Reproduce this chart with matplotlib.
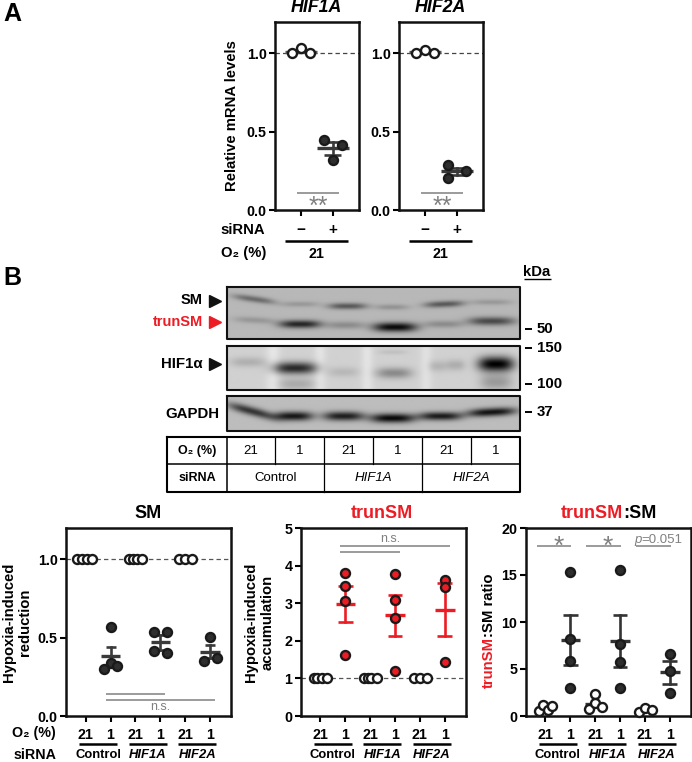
import numpy as np
import matplotlib
matplotlib.use('Agg')
import matplotlib.pyplot as plt

plt.rcParams['font.family'] = ['Liberation Sans', 'DejaVu Sans']
plt.rcParams['font.weight'] = 'bold'
plt.rcParams['font.size'] = 9

W, H = 692, 762
DARK = '#2e2e2e'
RED = '#ed1c24'
GREY = '#808080'

# --- Panel A values
hif1a_ctrl = [1.00, 1.036, 1.004]
hif1a_si = [0.45, 0.415, 0.317]
hif1a_stats = [(1.01, 1.01, 1.01), (0.396, 0.353, 0.436)]
hif2a_ctrl = [1.00, 1.02, 1.00]
hif2a_si = [0.289, 0.247, 0.206]
hif2a_stats = [(1.01, 1.01, 1.01), (0.247, 0.223, 0.268)]
a_ctrl_off = [-0.28, 0.01, 0.30]
hif1a_si_off = [-0.27, 0.30, 0.01]
hif2a_si_off = [-0.28, 0.30, -0.28]

# --- Panel B quantification: (values, jitter)
o2_labels = ['21', '1', '21', '1', '21', '1']
group_labels = ['Control', 'HIF1A', 'HIF2A']

sm_vals = [[1, 1, 1, 1], [0.57, 0.34, 0.30, 0.32], [1, 1, 1, 1],
           [0.535, 0.535, 0.415, 0.40], [1, 1, 1], [0.505, 0.35, 0.37]]
sm_off = [[-0.33, -0.16, 0.04, 0.27], [0, 0, -0.25, 0.27], [-0.24, -0.1, 0.05, 0.27],
          [-0.27, 0.27, -0.27, 0.27], [-0.25, 0, 0.27], [0, -0.25, 0.27]]
sm_mean = [None, 0.38, None, 0.47, None, 0.41]
sm_lo = [None, 0.32, None, 0.42, None, 0.37]
sm_hi = [None, 0.443, None, 0.515, None, 0.455]

trun_vals = [[1, 1, 1, 1], [3.80, 3.46, 3.05, 1.63], [1, 1, 1, 1],
             [3.78, 3.08, 2.60, 1.21], [1, 1, 1], [3.63, 3.42, 1.44]]
trun_off = [[-0.26, -0.12, 0.06, 0.28], [0, 0, 0, 0], [-0.24, -0.1, 0.05, 0.27],
            [0, 0, 0, 0], [-0.25, 0, 0.27], [0, 0, 0]]
trun_mean = [None, 2.98, None, 2.68, None, 2.83]
trun_lo = [None, 2.51, None, 2.13, None, 2.13]
trun_hi = [None, 3.47, None, 3.23, None, 3.53]

ratio_vals = [[0.57, 1.17, 0.67, 1.03], [15.3, 8.17, 5.9, 2.95], [0.78, 2.3, 1.35, 0.96],
              [15.56, 7.7, 5.72, 2.95], [0.43, 0.89, 0.6], [6.64, 4.8, 2.45]]
ratio_off = [[-0.25, -0.08, 0.09, 0.28], [0, 0, 0, 0], [-0.23, 0.01, 0.01, 0.28],
             [0, 0, 0, 0], [-0.23, 0.01, 0.27], [0, 0, 0]]
ratio_mean = [0.86, 8.1, 1.3, 8.03, 0.65, 4.65]
ratio_lo = [None, 5.44, None, 5.26, None, 3.4]
ratio_hi = [None, 10.76, None, 10.76, None, 5.9]

# --- Blot bands: left, right, row, thickness, darkness, slope (image px)
sm_bands = [(233, 275, 299, 3.2, .42, .14), (281, 319, 304, 2.8, .17, 0), (328, 367, 306, 3.2, .52, 0),
            (375, 409, 307, 2.8, .20, 0), (424, 464, 304, 3.2, .52, -.04), (471, 512, 302, 2.8, .17, 0),
            (234, 275, 320, 3.2, .18, .05), (279, 321, 324, 4.0, .80, 0), (326, 365, 325, 3.8, .24, 0),
            (373, 417, 327, 4.6, .95, 0), (424, 463, 324, 3.6, .24, 0), (468, 515, 321, 4.2, .60, 0)]
hif_bands = [(230, 266, 362, 5.0, .16, 0), (273, 317, 368, 6.0, .80, 0), (278, 315, 384, 6.0, .18, 0),
             (328, 359, 372, 5.0, .12, 0), (376, 412, 373, 5.5, .34, 0), (378, 407, 352, 2.5, .08, 0),
             (428, 447, 366, 5.5, .14, 0), (446, 465, 365, 5.5, .17, 0), (478, 514, 364, 7.5, 1.0, 0),
             (480, 512, 382, 8.0, .26, 0)]
gapdh_bands = [(228, 275, 411, 4.5, .72, .26), (274, 313, 416, 4.6, .88, 0), (323, 364, 416, 4.6, .84, 0),
               (370, 415, 418, 4.6, .95, 0), (419, 462, 416, 4.2, .86, 0), (467, 516, 412, 4.2, .90, -.05)]
hif_strips = [(273, 7, .08), (320, 6, .07), (367, 6, .07), (426, 6, .06)]


def band_image(box, bg, bands, strips=()):
    x0, x1, y0, y1 = box
    xx, yy = np.meshgrid(np.arange(x0, x1, 0.34), np.arange(y0, y1, 0.34))
    img = np.full(xx.shape, bg, dtype=float)
    for left, c, amt in strips:
        img += amt * np.exp(-((xx - left) / c) ** 2)
    for left, right, row, thick, dark, slope in bands:
        mid = (left + right) / 2
        half = (right - left) / 2
        across = np.exp(-((np.abs(xx - mid) / half) ** 3))
        along = np.exp(-((yy - (row + slope * (xx - mid))) / thick) ** 2)
        img -= dark * bg * across * along
    return np.clip(img, 0, 1)


def px_axes(x0, x1, y0, y1):
    return fig.add_axes([x0 / W, 1 - y1 / H, (x1 - x0) / W, (y1 - y0) / H])


def style(ax, xt, xlim, ylim, yt, ylab, xlab, xfs=10.3, xpad=4.0):
    ax.set_xlim(*xlim)
    ax.set_ylim(*ylim)
    ax.set_yticks(yt)
    ax.set_yticklabels(ylab, fontsize=10.3)
    ax.set_xticks(xt)
    ax.set_xticklabels(xlab, fontsize=xfs)
    ax.tick_params(axis='y', length=4.5, width=1.5, pad=1.5)
    ax.tick_params(axis='x', length=4.5, width=1.5, pad=xpad)
    for s in ax.spines.values():
        s.set_linewidth(1.8)
        s.set_color('#111111')


def group(ax, x, vals, off, mean, lo, hi, fill, col, mw, cw):
    if mean is not None:
        ax.plot([x - mw, x + mw], [mean, mean], color=col, lw=2.4, zorder=3, solid_capstyle='butt')
    if lo is not None:
        ax.plot([x, x], [lo, hi], color=col, lw=1.9, zorder=3)
        for v in (lo, hi):
            ax.plot([x - cw, x + cw], [v, v], color=col, lw=1.9, zorder=3, solid_capstyle='butt')
    xs = [x + o for o in off]
    ax.scatter(xs, vals, s=42, facecolor=fill, edgecolor='#1a1a1a', linewidth=1.7, zorder=4, clip_on=False)


fig = plt.figure(figsize=(W / 100, H / 100), dpi=100)
ov = fig.add_axes([0, 0, 1, 1], zorder=10)
ov.set_xlim(0, W)
ov.set_ylim(H, 0)
ov.axis('off')
ov.patch.set_alpha(0)


def txt(x, y, s, ha='center', va='center', **kw):
    return ov.text(x, y, s, ha=ha, va=va, **kw)


def hline(x0, x1, y, color='black', lw=1.5):
    ov.plot([x0, x1], [y, y], color=color, lw=lw, solid_capstyle='butt')


# Panel A
a_xlim = (0.2, 2.82)
for x0, title, ctrl, si, stats, si_off in [(275, 'HIF1A', hif1a_ctrl, hif1a_si, hif1a_stats, hif1a_si_off),
                                           (399, 'HIF2A', hif2a_ctrl, hif2a_si, hif2a_stats, hif2a_si_off)]:
    ax = px_axes(x0, x0 + 84, 22, 210)
    style(ax, [1, 2], a_xlim, (0, 1.2), [0, 0.5, 1.0], ['0.0', '0.5', '1.0'], ['\u2212', '+'], xfs=11, xpad=5.0)
    ax.axhline(1, color='#444444', lw=0.9, dashes=(3.5, 2.5), zorder=1)
    group(ax, 1, ctrl, a_ctrl_off, stats[0][0], None, None, 'white', '#555555', 0.5, 0.26)
    group(ax, 2, si, si_off, stats[1][0], stats[1][1], stats[1][2], DARK, '#3a3a3a', 0.5, 0.26)
    ax.plot([0.9, 2.2], [0.108, 0.108], color=GREY, lw=1.1, solid_capstyle='butt')
    ax.text(1.55, 0.022, '**', ha='center', va='center', color=GREY, fontsize=18, fontweight='normal')
    txt(x0 + 41, 8, title, fontsize=12.8, style='italic')
    hline(x0 + 10, x0 + 73, 241, lw=1.8)
    txt(x0 + 41, 254, '21', fontsize=10.3)

txt(232, 116, 'Relative mRNA levels', rotation=90, fontsize=10.7)
txt(265, 230, 'siRNA', ha='right', fontsize=10.7)
txt(266, 253.5, 'O\u2082 (%)', ha='right', fontsize=10.7)
txt(12, 14, 'A', fontsize=18)
txt(12, 278, 'B', fontsize=18)

# Blots
for box, bg, bands, strips in [((227, 520, 287, 339), .72, sm_bands, ()),
                               ((227, 520, 346, 390), .82, hif_bands, hif_strips),
                               ((227, 520, 396, 431), .74, gapdh_bands, ())]:
    x0, x1, y0, y1 = box
    ov.imshow(band_image(box, bg, bands, strips), cmap='gray', vmin=0, vmax=1, aspect='auto',
              extent=(x0, x1, y1, y0), zorder=1, interpolation='bilinear')
    ov.plot([x0, x1, x1, x0, x0], [y0, y0, y1, y1, y0], color='#111111', lw=1.5, zorder=2)
ov.set_xlim(0, W)
ov.set_ylim(H, 0)

txt(203, 300.5, 'SM', ha='right', fontsize=10.5)
txt(203, 322, 'trunSM', ha='right', fontsize=10.5, color=RED)
txt(203, 364, 'HIF1\u03b1', ha='right', fontsize=10.8)
txt(219, 414, 'GAPDH', ha='right', fontsize=10.8)
ov.plot([215, 215], [300.5, 364], ls='none', marker='>', ms=8.5, color='#111111')
ov.plot([215], [322], ls='none', marker='>', ms=8.5, color=RED)

txt(537, 272, 'kDa', fontsize=10.7)
hline(524, 551, 279, lw=1.0)
for y, lab in zip([329, 348, 384, 412], ['50', '150', '100', '37']):
    hline(525, 532, y, lw=1.4)
    txt(537, y, lab, ha='left', fontsize=10.8)

# Table
tab_x = [227, 275, 324, 373, 422, 471, 520]
ov.plot([167, 520, 520, 167, 167], [437, 437, 492, 492, 437], color='black', lw=1.5)
hline(167, 520, 464, lw=1.1)
ov.plot([227, 227], [437, 492], color='black', lw=1.1)
for i, xv in enumerate(tab_x[1:-1]):
    y1 = 492 if i % 2 == 1 else 464
    ov.plot([xv, xv], [437, y1], color='black', lw=0.9)
txt(197, 451, 'O\u2082 (%)', fontsize=9)
txt(197, 478, 'siRNA', fontsize=9)
for i, lab in enumerate(o2_labels):
    txt((tab_x[i] + tab_x[i + 1]) / 2, 451, lab, fontsize=9.5, fontweight='normal')
for i, lab in enumerate(group_labels):
    txt((tab_x[2 * i] + tab_x[2 * i + 2]) / 2, 478, lab, fontsize=9.5, fontweight='normal',
        style='normal' if i == 0 else 'italic')

# Bottom panels
xpos = [1, 2, 3, 4, 5, 6]
b_xlim = (0.21, 6.84)
for x0, ylim, yt, ylab, vals, off, mean, lo, hi, fill1, col1, mw, cw in [
    (66, (0, 1.2), [0, .5, 1], ['0.0', '0.5', '1.0'], sm_vals, sm_off, sm_mean, sm_lo, sm_hi, DARK, '#3a3a3a', .39, .2),
    (300.7, (0, 5), [0, 1, 2, 3, 4, 5], ['0', '1', '2', '3', '4', '5'], trun_vals, trun_off, trun_mean, trun_lo, trun_hi, RED, RED, .39, .3),
    (525.7, (0, 20), [0, 5, 10, 15, 20], ['0', '5', '10', '15', '20'], ratio_vals, ratio_off, ratio_mean, ratio_lo, ratio_hi, DARK, '#333333', .39, .3),
]:
    ax = px_axes(x0, x0 + 165, 528, 716)
    style(ax, xpos, b_xlim, ylim, yt, ylab, o2_labels)
    if ylim[1] != 20:
        ax.axhline(1, color='#555555', lw=0.9, dashes=(3.5, 2.5), zorder=1)
    for i in range(6):
        hypoxic = i % 2 == 1
        group(ax, xpos[i], vals[i], off[i], mean[i], lo[i], hi[i],
              fill1 if hypoxic else 'white', col1 if hypoxic else '#333333', mw, cw)
    for j, lab in enumerate(group_labels):
        gx = x0 + 13 + j * 49.6
        hline(gx, gx + 38, 744, lw=1.8)
        txt(gx + 19, 755.5, lab, fontsize=9.4, style='normal' if j == 0 else 'italic')
    if ylim[1] == 1.2:
        ax.plot([1.8, 4.2], [0.143, 0.143], color=GREY, lw=1.1, solid_capstyle='butt')
        ax.plot([1.8, 6.2], [0.105, 0.105], color=GREY, lw=1.1, solid_capstyle='butt')
        ax.text(4.0, 0.055, 'n.s.', ha='center', va='center', color=GREY, fontsize=9, fontweight='normal')
    elif ylim[1] == 5:
        ax.plot([1.8, 6.2], [4.53, 4.53], color=GREY, lw=1.1, solid_capstyle='butt')
        ax.plot([1.8, 4.2], [4.36, 4.36], color=GREY, lw=1.1, solid_capstyle='butt')
        ax.text(3.8, 4.72, 'n.s.', ha='center', va='center', color=GREY, fontsize=9, fontweight='normal')
    else:
        for a, b in [(0.65, 2.05), (2.65, 4.05), (4.65, 6.05)]:
            ax.plot([a, b], [18.06, 18.06], color=GREY, lw=1.1, solid_capstyle='butt')
        ax.text(1.52, 18.0, '*', ha='center', va='center', color=GREY, fontsize=19, fontweight='normal')
        ax.text(3.52, 18.0, '*', ha='center', va='center', color=GREY, fontsize=19, fontweight='normal')

txt(641.5, 540, 'p', ha='right', fontsize=9.5, color=GREY, fontweight='normal', style='italic')
txt(641.5, 540, '=0.051', ha='left', fontsize=9.5, color=GREY, fontweight='normal')
txt(148, 513, 'SM', fontsize=13)
txt(382, 513, 'trunSM', fontsize=13, color=RED)
txt(623, 513, 'trunSM', ha='right', fontsize=13, color=RED)
txt(623, 513, ':SM', ha='left', fontsize=13)
txt(56, 733, 'O\u2082 (%)', ha='right', fontsize=10.3)
txt(56, 755, 'siRNA', ha='right', fontsize=10.3)
txt(9, 622, 'Hypoxia-induced', rotation=90, fontsize=10.7)
txt(25, 622, 'reduction', rotation=90, fontsize=10.7)
txt(251, 622, 'Hypoxia-induced', rotation=90, fontsize=10.7)
txt(268, 622, 'accumulation', rotation=90, fontsize=10.7)
txt(489, 636.7, 'trunSM', va='top', rotation=90, fontsize=10.7, color=RED)
txt(489, 636.7, ':SM ratio', va='bottom', rotation=90, fontsize=10.7)

fig.savefig('out.png', dpi=100)
